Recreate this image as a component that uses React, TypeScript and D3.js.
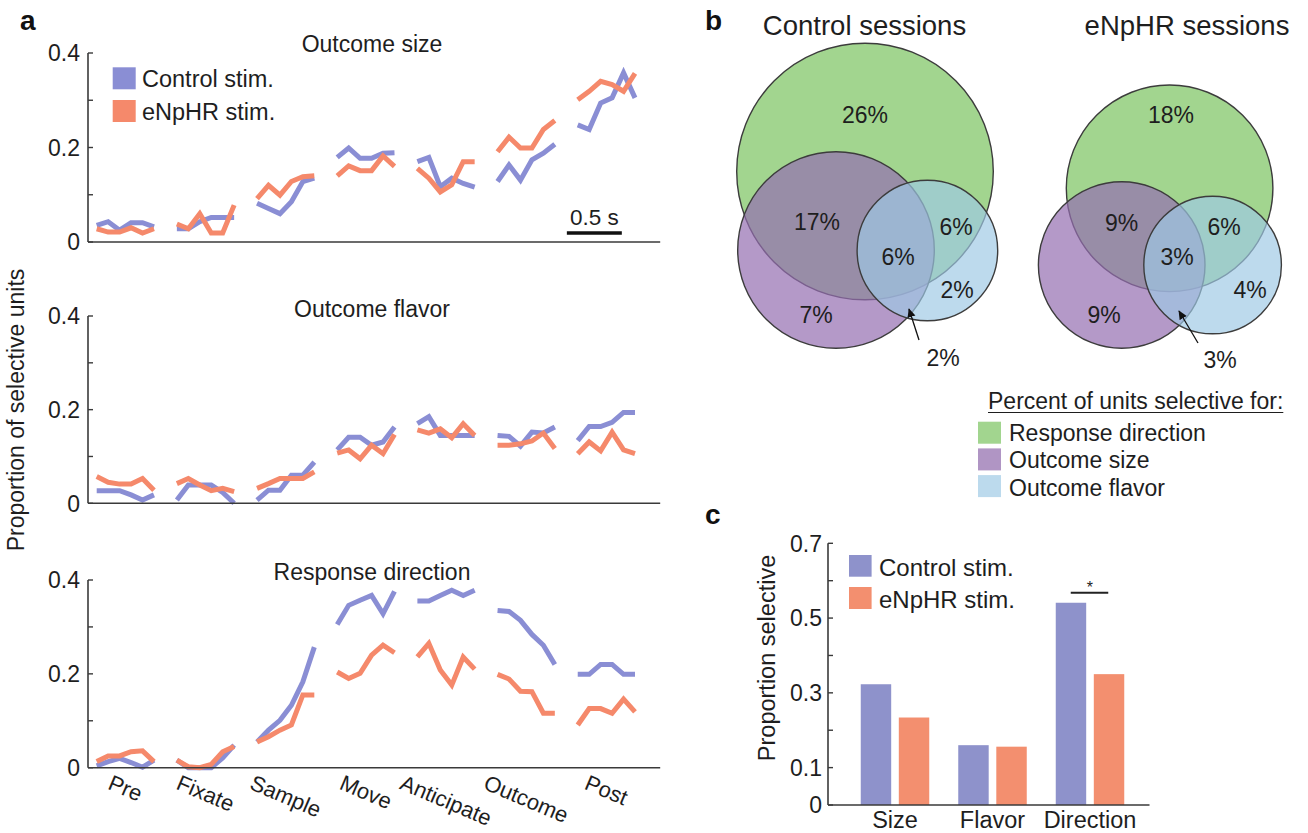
import React from 'react';
import * as d3 from 'd3';

// ---------- DATA ----------
const epochs = ['Pre', 'Fixate', 'Sample', 'Move', 'Anticipate', 'Outcome', 'Post'];

// Outcome size (6 bins per epoch)
const sizeControl = [
  [0.035, 0.043, 0.025, 0.041, 0.041, 0.032],
  [0.028, 0.028, 0.043, 0.052, 0.052, 0.052],
  [0.082, 0.071, 0.06, 0.085, 0.128, 0.135],
  [0.179, 0.199, 0.177, 0.177, 0.188, 0.189],
  [0.17, 0.179, 0.117, 0.135, 0.124, 0.116],
  [0.128, 0.163, 0.131, 0.174, 0.188, 0.207],
  [0.248, 0.238, 0.294, 0.305, 0.358, 0.305],
];
const sizeNpHR = [
  [0.028, 0.021, 0.021, 0.03, 0.019, 0.028],
  [0.038, 0.028, 0.06, 0.019, 0.019, 0.078],
  [0.092, 0.12, 0.099, 0.128, 0.138, 0.14],
  [0.14, 0.161, 0.151, 0.151, 0.182, 0.16],
  [0.156, 0.135, 0.106, 0.121, 0.17, 0.17],
  [0.191, 0.222, 0.199, 0.199, 0.238, 0.257],
  [0.301, 0.319, 0.34, 0.333, 0.319, 0.357],
];
// Outcome flavor
const flavorControl = [
  [0.027, 0.027, 0.027, 0.018, 0.007, 0.018],
  [0.007, 0.039, 0.039, 0.039, 0.023, 0.0],
  [0.007, 0.028, 0.028, 0.06, 0.06, 0.088],
  [0.114, 0.141, 0.141, 0.124, 0.131, 0.163],
  [0.17, 0.185, 0.145, 0.145, 0.145, 0.145],
  [0.145, 0.143, 0.122, 0.152, 0.15, 0.163],
  [0.134, 0.164, 0.164, 0.173, 0.194, 0.194],
];
const flavorNpHR = [
  [0.057, 0.045, 0.041, 0.041, 0.053, 0.028],
  [0.042, 0.053, 0.039, 0.027, 0.032, 0.025],
  [0.032, 0.042, 0.053, 0.053, 0.053, 0.067],
  [0.107, 0.114, 0.095, 0.124, 0.106, 0.147],
  [0.157, 0.15, 0.159, 0.14, 0.17, 0.145],
  [0.124, 0.124, 0.127, 0.133, 0.15, 0.117],
  [0.106, 0.131, 0.112, 0.152, 0.114, 0.106],
];
// Response direction
const directionControl = [
  [0.004, 0.013, 0.02, 0.011, 0.001, 0.016],
  [0.016, 0.0, 0.0, 0.0, 0.021, 0.048],
  [0.055, 0.08, 0.101, 0.133, 0.183, 0.257],
  [0.305, 0.346, 0.357, 0.367, 0.328, 0.376],
  [0.355, 0.355, 0.367, 0.378, 0.367, 0.378],
  [0.335, 0.333, 0.314, 0.284, 0.261, 0.22],
  [0.199, 0.199, 0.22, 0.22, 0.199, 0.199],
];
const directionNpHR = [
  [0.013, 0.025, 0.025, 0.034, 0.036, 0.013],
  [0.016, 0.002, 0.0, 0.007, 0.034, 0.045],
  [0.055, 0.066, 0.08, 0.091, 0.155, 0.155],
  [0.204, 0.19, 0.201, 0.24, 0.261, 0.245],
  [0.236, 0.265, 0.208, 0.176, 0.236, 0.21],
  [0.199, 0.189, 0.163, 0.162, 0.116, 0.116],
  [0.091, 0.126, 0.126, 0.116, 0.146, 0.119],
];
const aTicks = [0, 0.1, 0.2, 0.3, 0.4];
const aTickLabels = [0, 0.2, 0.4];

// Panel c
const barCategories = ['Size', 'Flavor', 'Direction'];
const barSeries = ['Control stim.', 'eNpHR stim.'];
const barControl = [0.323, 0.16, 0.541];
const barNpHR = [0.234, 0.156, 0.35];
const cTicks = [0, 0.1, 0.2, 0.3, 0.4, 0.5, 0.6, 0.7];
const cTickLabels = [0, 0.1, 0.3, 0.5, 0.7];

// Panel b (percent labels: green-only, green∩purple, all three, green∩blue, blue-only, purple-only, purple∩blue)
const vennControlPct = ['26%', '17%', '6%', '6%', '2%', '7%', '2%'];
const vennNpHRPct = ['18%', '9%', '3%', '6%', '4%', '9%', '3%'];
const vennLegend = ['Response direction', 'Outcome size', 'Outcome flavor'];

// ---------- STYLE / LAYOUT ----------
const FONT = "'Liberation Sans', Arial, Helvetica, sans-serif";
const TXT = '#1e1e1e';
const AX = '#3a3a3a';
const BLUE = '#8a8ed4';
const ORANGE = '#f5896b';
const BAR_BLUE = '#8e92cb';
const BAR_ORANGE = '#f38f6f';
const GREEN = '#a2d58f';
const PURPLE = '#946db0';
const LBLUE = '#9dc9e5';

function measure(text: string, font: string): number {
  const c = document.createElement('canvas').getContext('2d');
  if (!c) return text.length * 10;
  c.font = font;
  return c.measureText(text).width;
}

const xA = d3.scaleLinear().domain([0, 47]).range([96.7, 635]);
const AX_LEFT = 88;

const panelsA = [
  { title: 'Outcome size', control: sizeControl, npHR: sizeNpHR, top: 53, bottom: 242, titleY: 52 },
  { title: 'Outcome flavor', control: flavorControl, npHR: flavorNpHR, top: 316, bottom: 503.3, titleY: 316.5 },
  { title: 'Response direction', control: directionControl, npHR: directionNpHR, top: 580, bottom: 767.7, titleY: 579.5 },
];

const vennLayouts = [
  {
    title: 'Control sessions', tx: 864.5, pct: vennControlPct,
    circles: [
      { cx: 865, cy: 171.5, r: 128.3, fill: GREEN, op: 1 },
      { cx: 836, cy: 250, r: 98.3, fill: PURPLE, op: 0.7 },
      { cx: 927.4, cy: 250.5, r: 70.3, fill: LBLUE, op: 0.68 },
    ],
    labelPos: [[865, 115], [817, 222], [898, 257], [956, 227], [957, 290], [816, 315], [943, 358]],
    arrow: [[919, 340], [909, 309]],
  },
  {
    title: 'eNpHR sessions', tx: 1187, pct: vennNpHRPct,
    circles: [
      { cx: 1169.6, cy: 188.3, r: 103.3, fill: GREEN, op: 1 },
      { cx: 1121.7, cy: 265, r: 83.3, fill: PURPLE, op: 0.7 },
      { cx: 1212.6, cy: 265, r: 68.8, fill: LBLUE, op: 0.68 },
    ],
    labelPos: [[1171, 115], [1121.5, 223], [1177, 257], [1224, 227], [1250, 290], [1104, 315], [1220, 360]],
    arrow: [[1198, 343], [1179, 311]],
  },
];

export default function App() {
  const line = d3.line<[number, number]>().x((d) => d[0]).y((d) => d[1]);

  const xLabelFont = 22;
  const rot = 23;
  const sinR = Math.sin((rot * Math.PI) / 180);
  const cosR = Math.cos((rot * Math.PI) / 180);

  // Panel c scales
  const xc = d3.scaleBand().domain(barCategories).range([846.25, 1138.75]).paddingInner(0.2974).paddingOuter(0.1487);
  const xs = d3.scaleBand().domain(barSeries).range([0, xc.bandwidth()]).paddingInner(0.2);
  const yc = d3.scaleLinear().domain([0, 0.7]).range([805, 543.3]);

  const legendTitle = 'Percent of units selective for:';
  const legendTitleW = measure(legendTitle, `23px ${FONT}`);

  return (
    <svg width={1308} height={833} style={{ position: 'absolute', left: 0, top: 0, display: 'block', background: '#fff' }} fontFamily={FONT}>
      <defs>
        <marker id="arrowhead" viewBox="0 0 10 10" refX="9" refY="5" markerWidth="7" markerHeight="7" orient="auto">
          <path d="M0,0.5 L10,5 L0,9.5 z" fill="#111" />
        </marker>
      </defs>
      <rect x={0} y={0} width={1308} height={833} fill="#fff" />

      {/* ---------- Panel a ---------- */}
      <text x={20} y={30} fontSize={28} fontWeight="bold" fill="#111">a</text>
      <text transform={`translate(24,410) rotate(-90)`} textAnchor="middle" fontSize={23} fill={TXT}>Proportion of selective units</text>

      {panelsA.map((p, pi) => {
        const y = d3.scaleLinear().domain([0, 0.4]).range([p.bottom, p.top]);
        const x0 = AX_LEFT;
        const x1 = xA(49.2);
        return (
          <g key={pi}>
            <text x={372} y={p.titleY} textAnchor="middle" fontSize={23} fill={TXT}>{p.title}</text>
            {[{ data: p.control, c: BLUE }, { data: p.npHR, c: ORANGE }].map((s, si) => (
              <g key={si}>
                {s.data.map((vals, e) => (
                  <path
                    key={e}
                    d={line(vals.map((v, k) => [xA(e * 7 + k), y(v)] as [number, number])) || ''}
                    fill="none"
                    stroke={s.c}
                    strokeWidth={5}
                    strokeLinejoin="miter"
                    strokeMiterlimit={4}
                  />
                ))}
              </g>
            ))}
            <line x1={x0} x2={x1} y1={y(0)} y2={y(0)} stroke={AX} strokeWidth={1.6} />
            <line x1={x0} x2={x0} y1={y(0)} y2={y(0.4)} stroke={AX} strokeWidth={1.6} />
            {aTicks.map((t) => (
              <line key={t} x1={x0} x2={x0 + 5} y1={y(t)} y2={y(t)} stroke={AX} strokeWidth={1.4} />
            ))}
            {aTickLabels.map((t) => (
              <text key={t} x={x0 - 8} y={y(t)} dy="0.36em" textAnchor="end" fontSize={23} fill={TXT}>{String(t)}</text>
            ))}
            {pi === 0 && (
              <g>
                <rect x={112.7} y={67.3} width={23} height={22} fill={BLUE} />
                <rect x={112.7} y={100} width={23} height={22} fill={ORANGE} />
                <text x={142} y={87} fontSize={23.5} fill={TXT}>{barSeries[0]}</text>
                <text x={142} y={119.5} fontSize={23.5} fill={TXT}>{barSeries[1]}</text>
                <line x1={xA(41.05)} x2={xA(45.85)} y1={233} y2={233} stroke="#111" strokeWidth={3.5} />
                <text x={(xA(41.05) + xA(45.85)) / 2} y={225} textAnchor="middle" fontSize={22.5} fill={TXT}>0.5 s</text>
              </g>
            )}
            {pi === 2 &&
              epochs.map((lab, e) => {
                const w = measure(lab, `${xLabelFont}px ${FONT}`);
                const h = xLabelFont * 0.85;
                const cx = xA(e * 7 + 2.5);
                const cy = 773 + (w * sinR + h * cosR) / 2;
                return (
                  <text
                    key={lab}
                    transform={`translate(${cx},${cy}) rotate(${rot})`}
                    textAnchor="middle"
                    dominantBaseline="central"
                    fontSize={xLabelFont}
                    fill={TXT}
                  >
                    {lab}
                  </text>
                );
              })}
          </g>
        );
      })}

      {/* ---------- Panel b ---------- */}
      <text x={705} y={30} fontSize={28} fontWeight="bold" fill="#111">b</text>
      {vennLayouts.map((v, vi) => (
        <g key={vi}>
          <text x={v.tx} y={35} textAnchor="middle" fontSize={27.5} fill={TXT}>{v.title}</text>
          {v.circles.map((c, ci) => (
            <circle key={ci} cx={c.cx} cy={c.cy} r={c.r} fill={c.fill} fillOpacity={c.op} stroke="#3c3c3c" strokeWidth={1.4} />
          ))}
          {v.pct.map((t, i) => (
            <text key={i} x={v.labelPos[i][0]} y={v.labelPos[i][1]} textAnchor="middle" dominantBaseline="central" fontSize={23} fill={TXT}>{t}</text>
          ))}
          <line x1={v.arrow[0][0]} y1={v.arrow[0][1]} x2={v.arrow[1][0]} y2={v.arrow[1][1]} stroke="#111" strokeWidth={1.3} markerEnd="url(#arrowhead)" />
        </g>
      ))}
      <text x={988} y={409} fontSize={23} fill={TXT}>{legendTitle}</text>
      <line x1={988} x2={988 + legendTitleW} y1={412.5} y2={412.5} stroke={TXT} strokeWidth={1.2} />
      {vennLegend.map((lab, i) => (
        <g key={lab}>
          <rect x={978} y={421.7 + i * 26.7} width={23} height={22} fill={[GREEN, '#b095c4', '#bcdaed'][i]} />
          <text x={1009} y={433 + i * 27.2} dy="0.36em" fontSize={23} fill={TXT}>{lab}</text>
        </g>
      ))}

      {/* ---------- Panel c ---------- */}
      <text x={705} y={524} fontSize={28} fontWeight="bold" fill="#111">c</text>
      <text transform={`translate(775,658) rotate(-90)`} textAnchor="middle" fontSize={23.5} fill={TXT}>Proportion selective</text>
      {barCategories.map((cat, i) => (
        <g key={cat}>
          <rect x={(xc(cat) || 0) + (xs(barSeries[0]) || 0)} y={yc(barControl[i])} width={xs.bandwidth()} height={yc(0) - yc(barControl[i])} fill={BAR_BLUE} />
          <rect x={(xc(cat) || 0) + (xs(barSeries[1]) || 0)} y={yc(barNpHR[i])} width={xs.bandwidth()} height={yc(0) - yc(barNpHR[i])} fill={BAR_ORANGE} />
          <text x={(xc(cat) || 0) + xc.bandwidth() / 2} y={828} textAnchor="middle" fontSize={23.5} fill={TXT}>{cat}</text>
        </g>
      ))}
      <line x1={828} x2={1149.5} y1={yc(0)} y2={yc(0)} stroke={AX} strokeWidth={1.6} />
      <line x1={828} x2={828} y1={yc(0)} y2={yc(0.7)} stroke={AX} strokeWidth={1.6} />
      {cTicks.map((t) => (
        <line key={t} x1={828} x2={833} y1={yc(t)} y2={yc(t)} stroke={AX} strokeWidth={1.4} />
      ))}
      {cTickLabels.map((t) => (
        <text key={t} x={822} y={yc(t)} dy="0.36em" textAnchor="end" fontSize={23} fill={TXT}>{String(t)}</text>
      ))}
      <rect x={849} y={555} width={22.6} height={21.7} fill={BAR_BLUE} />
      <rect x={849} y={587} width={22.6} height={22} fill={BAR_ORANGE} />
      <text x={879} y={575.5} fontSize={24} fill={TXT}>{barSeries[0]}</text>
      <text x={879} y={607.5} fontSize={24} fill={TXT}>{barSeries[1]}</text>
      <line x1={(xc('Direction') || 0) + 15} x2={(xc('Direction') || 0) + 52.5} y1={592.7} y2={592.7} stroke="#222" strokeWidth={2} />
      <text x={(xc('Direction') || 0) + 34} y={593} textAnchor="middle" fontSize={16} fill={TXT}>*</text>
    </svg>
  );
}
